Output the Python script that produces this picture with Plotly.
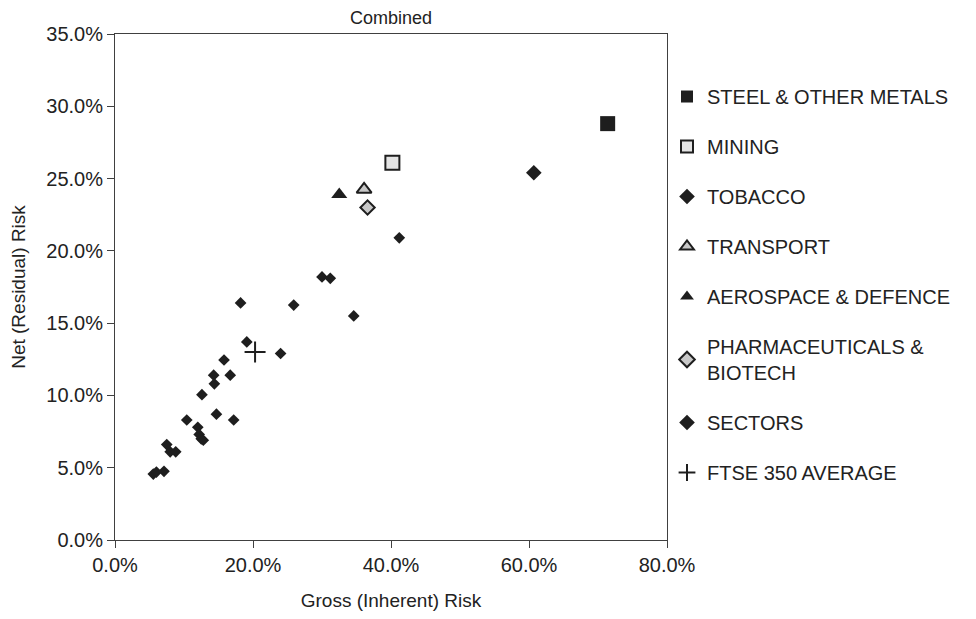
import plotly.graph_objects as go

# ---- data (percent) ----
steel_x, steel_y = [71.4], [28.8]
mining_x, mining_y = [40.2], [26.1]
tobacco_x, tobacco_y = [60.7], [25.4]
transport_x, transport_y = [36.1], [24.25]
aero_x, aero_y = [32.5], [23.9]
pharma_x, pharma_y = [36.6], [23.0]
sectors_x = [41.2, 30.0, 31.2, 25.9, 34.6, 24.0, 18.2, 19.1, 15.8, 14.3, 16.7, 14.4, 12.6,
             14.7, 10.4, 17.2, 12.0, 12.2, 12.5, 12.8, 7.5, 8.0, 8.8, 5.55, 6.0, 7.1]
sectors_y = [20.9, 18.2, 18.1, 16.25, 15.5, 12.9, 16.4, 13.7, 12.45, 11.4, 11.4, 10.8, 10.05,
             8.7, 8.3, 8.3, 7.8, 7.3, 7.0, 6.9, 6.6, 6.1, 6.1, 4.56, 4.7, 4.75]
ftse_x, ftse_y = [20.3], [13.0]

x_ticks = [0, 20, 40, 60, 80]
y_ticks = [0, 5, 10, 15, 20, 25, 30, 35]
x_labels = [f"{v:.1f}%" for v in x_ticks]
y_labels = [f"{v:.1f}%" for v in y_ticks]

DARK = "#1e1e1e"
TXT = "#222"
FONT = "Liberation Sans, Arial, sans-serif"
FS = 20

fig = go.Figure()

def add(name, xs, ys, symbol, size, color, lcolor, lwidth, grp):
    fig.add_trace(go.Scatter(
        x=xs, y=ys, mode="markers", name=name, legendgroup=grp,
        marker=dict(symbol=symbol, size=size, color=color,
                    line=dict(color=lcolor, width=lwidth)),
    ))

add("STEEL & OTHER METALS", steel_x, steel_y, "square", 15, DARK, DARK, 0, "g1")
add("MINING", mining_x, mining_y, "square", 14, "#e4e4e4", DARK, 2, "g2")
add("TOBACCO", tobacco_x, tobacco_y, "diamond", 12, DARK, DARK, 0, "g3")
add("TRANSPORT", transport_x, transport_y, "triangle-up", 13, "#c8c8c8", DARK, 2, "g4")
add("AEROSPACE & DEFENCE", aero_x, aero_y, "triangle-up", 14, DARK, DARK, 0, "g5")
add("PHARMACEUTICALS &<br>BIOTECH", pharma_x, pharma_y, "diamond", 11, "#c8c8c8", DARK, 2, "g6")
add("SECTORS", sectors_x, sectors_y, "diamond", 9, DARK, DARK, 0, "g7")
add("FTSE 350 AVERAGE", ftse_x, ftse_y, "cross-thin", 15, DARK, DARK, 2, "g8")

axis_common = dict(
    showgrid=False, zeroline=False, showline=True, linecolor="#404040", linewidth=1,
    mirror=True, ticks="outside", ticklen=7, tickcolor="#404040", automargin=False,
    tickfont=dict(family=FONT, size=FS, color=TXT),
)

fig.update_layout(
    width=976, height=619,
    margin=dict(l=107, r=317, t=26, b=87, autoexpand=False),
    paper_bgcolor="white", plot_bgcolor="white",
    font=dict(family=FONT, size=FS, color=TXT),
    title=dict(text="Combined", x=0.5, xref="paper", y=1 - 10 / 619, yref="container",
               yanchor="middle", font=dict(family=FONT, size=FS - 2, color=TXT)),
    xaxis=dict(range=[0, 80], tickvals=x_ticks, ticktext=x_labels,
               title=dict(text="Gross (Inherent) Risk", standoff=18,
                          font=dict(family=FONT, size=FS - 1, color=TXT)),
               **axis_common),
    yaxis=dict(range=[0, 35], tickvals=y_ticks, ticktext=y_labels,
               title=dict(text="Net (Residual) Risk", standoff=22,
                          font=dict(family=FONT, size=FS - 1, color=TXT)),
               **axis_common),
    legend=dict(x=1.0, xanchor="left", y=0.915, yanchor="top",
                font=dict(family=FONT, size=FS, color=TXT),
                tracegroupgap=21, itemsizing="constant",
                bgcolor="rgba(0,0,0,0)"),
    showlegend=True,
)

fig.write_html("out.html")
